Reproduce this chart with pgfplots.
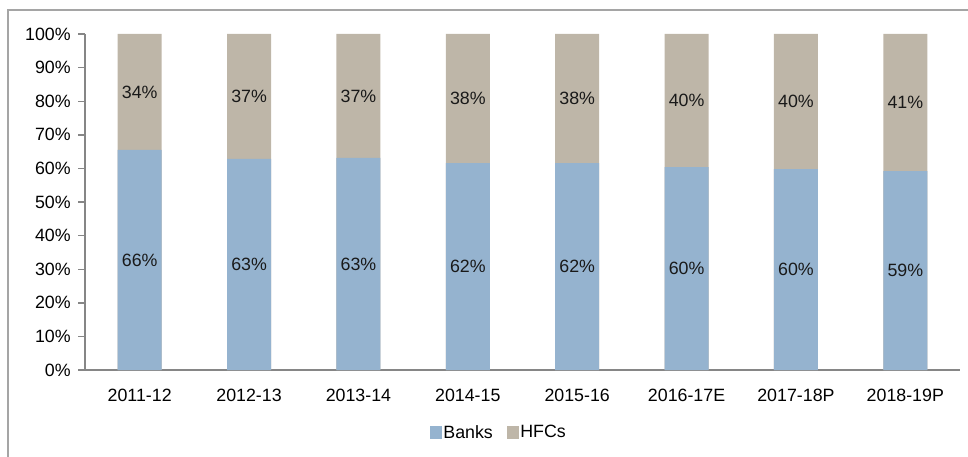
\documentclass[border=0pt]{standalone}
\usepackage{pgfplots}
\pgfplotsset{compat=1.18}
\usepackage{fontspec}
\setmainfont{Liberation Sans}
\definecolor{banks}{RGB}{149,179,207}
\definecolor{hfcs}{RGB}{190,182,168}
\definecolor{axgray}{RGB}{134,134,134}
\definecolor{framegray}{RGB}{165,165,165}
\newcommand{\lblfont}{\fontsize{8.9pt}{10.5pt}\selectfont}
\begin{document}
\lblfont
\begin{tikzpicture}
\useasboundingbox (0,0) rectangle (484pt,228pt);
\draw[framegray, line width=1pt] (4pt,-2pt) -- (4pt,223pt) -- (490pt,223pt);
\begin{axis}[
  at={(42.5pt,43pt)}, anchor=south west,
  scale only axis, width=437.5pt, height=168pt,
  xmin=-0.5, xmax=7.5, ymin=0, ymax=100,
  axis x line*=bottom, axis y line*=left,
  axis line style={axgray, line width=0.7pt, -},
  xtick={0,...,7},
  xticklabels={2011-12,2012-13,2013-14,2014-15,2015-16,2016-17E,2017-18P,2018-19P},
  x tick style={draw=none},
  ytick={0,10,...,100},
  yticklabel={\pgfmathprintnumber[assume math mode=true]{\tick}\%},
  y tick style={axgray, line width=0.7pt},
  tick align=outside, major tick length=3.5pt,
  tick label style={font=\lblfont, text=black},
  xticklabel style={yshift=-3pt},
  yticklabel style={xshift=-0.5pt},
  legend style={at={(0.473,-0.1875)}, anchor=center, draw=none, fill=none,
    legend columns=2, font=\lblfont,
    /tikz/every even column/.append style={column sep=6pt},
    inner sep=0pt, nodes={inner sep=1pt}},
  legend image code/.code={\fill[#1] (0pt,-0.3em) rectangle (0.6em,0.36em);},
  legend entries={Banks,HFCs},
  clip=false,
]
\addlegendimage{banks}
\addlegendimage{hfcs}
% HFCs segment drawn as full-height bar, banks drawn over it
\addplot[ybar, bar width=22pt, bar shift=0pt, fill=hfcs, draw=none, forget plot]
  coordinates {(0,100) (1,100) (2,100) (3,100) (4,100) (5,100) (6,100) (7,100)};
\addplot[ybar, bar width=22pt, bar shift=0pt, fill=banks, draw=none, forget plot]
  coordinates {(0,65.5) (1,62.8) (2,63.1) (3,61.6) (4,61.6) (5,60.4) (6,59.8) (7,59.2)};
% labels (segment midpoints)
\addplot[draw=none, mark=none, forget plot, point meta=explicit symbolic,
  nodes near coords, every node near coord/.style={anchor=center, text=black!90,
  font=\lblfont}]
  coordinates {(0,32.75) [66\%] (1,31.4) [63\%] (2,31.55) [63\%] (3,30.8) [62\%]
               (4,30.8) [62\%] (5,30.2) [60\%] (6,29.9) [60\%] (7,29.6) [59\%]};
\addplot[draw=none, mark=none, forget plot, point meta=explicit symbolic,
  nodes near coords, every node near coord/.style={anchor=center, text=black!90,
  font=\lblfont}]
  coordinates {(0,82.75) [34\%] (1,81.4) [37\%] (2,81.55) [37\%] (3,80.8) [38\%]
               (4,80.8) [38\%] (5,80.2) [40\%] (6,79.9) [40\%] (7,79.6) [41\%]};
\end{axis}
\end{tikzpicture}
\end{document}
